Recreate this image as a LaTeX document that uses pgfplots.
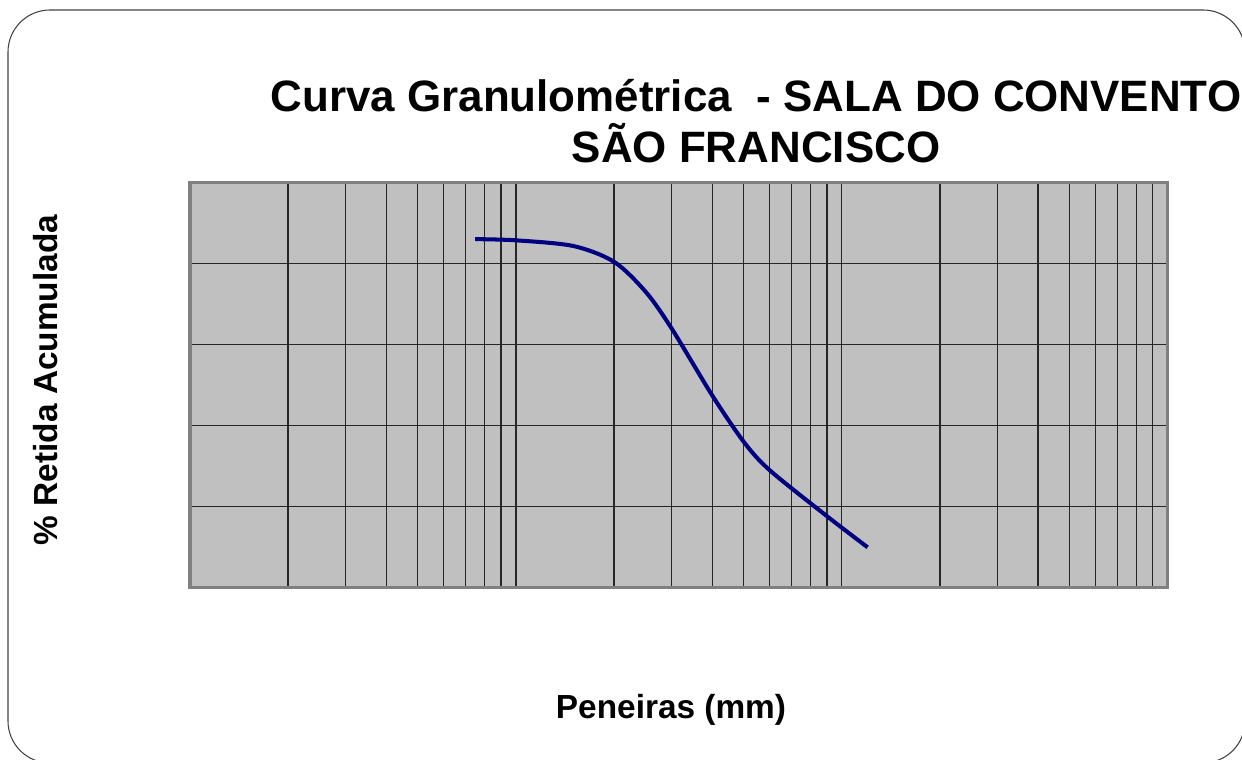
\documentclass[border=0pt]{standalone}
\usepackage{pgfplots}
\pgfplotsset{compat=1.18}
\usepackage{fontspec}
\setmainfont{Liberation Sans}

\definecolor{plotbg}{HTML}{C0C0C0}
\definecolor{curva}{HTML}{000080}
\definecolor{borda}{HTML}{808080}

\begin{document}
\begin{tikzpicture}[x=0.02cm,y=0.02cm]
    \useasboundingbox (0,0) rectangle (1242,760);
    % moldura arredondada
    \draw[black!75, line width=0.6pt, rounded corners=0.84cm] (8,-3) rectangle (1245,750);

    \begin{axis}[
        at={(3.8cm,3.454cm)},
        anchor=south west,
        scale only axis,
        width=19.56cm,
        height=8.09cm,
        xmode=log,
        xmin=0.01, xmax=10,
        ymin=0, ymax=100,
        ytick={0,20,...,100},
        xticklabels={}, yticklabels={},
        major tick length=0pt,
        minor tick length=0pt,
        xmajorgrids, xminorgrids, ymajorgrids,
        major grid style={black!85, line width=0.7pt},
        minor grid style={black!85, line width=0.7pt},
        axis background/.style={fill=plotbg},
        axis line style={borda, line width=1.8pt},
    ]
        \addplot[curva, line width=2.3pt, smooth, tension=0.5] coordinates {
            (0.075,86.1)
            (0.1,85.8)
            (0.15,84.4)
            (0.2,80.5)
            (0.25,73.1)
            (0.3,64.1)
            (0.4,47.5)
            (0.5,36.0)
            (0.6,29.0)
            (0.9,17.6)
            (1.2,9.9)
        };
    \end{axis}

    \node[font=\fontsize{25}{30}\selectfont\bfseries, align=center] at (756,639)
        {Curva Granulométrica\ \ - SALA DO CONVENTO\\[-1pt]SÃO FRANCISCO};
    \node[font=\fontsize{19}{23}\selectfont\bfseries] at (671,50) {Peneiras (mm)};
    \node[font=\fontsize{19}{23}\selectfont\bfseries, rotate=90] at (46,380) {\% Retida Acumulada};
\end{tikzpicture}
\end{document}
